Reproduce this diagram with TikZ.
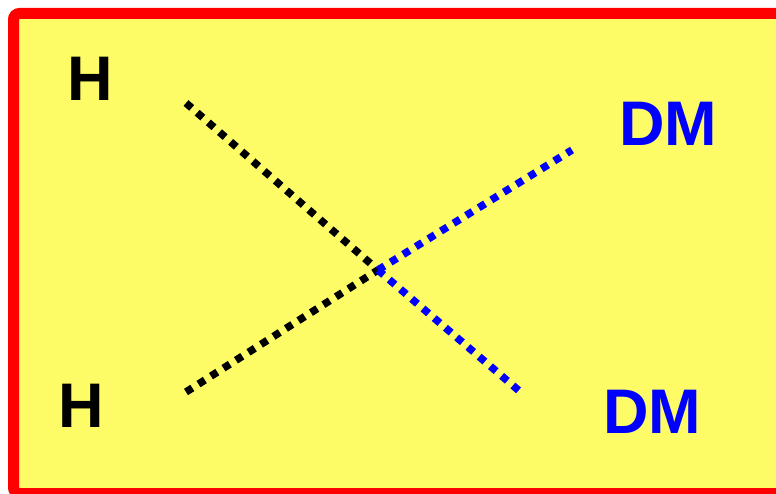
\documentclass[tikz,border=0pt]{standalone}
\usepackage{fontspec}
\setmainfont{Liberation Sans}
\definecolor{paneyellow}{RGB}{253,251,102}
\tikzset{
  label/.style={font=\fontsize{63}{63}\selectfont\bfseries, inner sep=0pt},
  scalar/.style={line width=7.5pt, dash pattern=on 7.5pt off 7.3pt},
}
\begin{document}
\begin{tikzpicture}[x=1pt,y=-1pt]
                % ===== 边框 =====
                \useasboundingbox (0,0) rectangle (776,494);
                \draw[red, line width=11pt, fill=paneyellow, rounded corners=6pt]
                (13.5,13.5) rectangle (800,493.5);

                % ===== 标签 =====
                \node[label] (h1) at (90,79) {H};
                \node[label] (h2) at (81,406) {H};
                \node[label, blue] (dm1) at (668,124) {DM};
                \node[label, blue] (dm2) at (652,412) {DM};

                % ===== 顶点 =====
                \coordinate (v) at (378,270);
                \coordinate (h1end) at (186,103);
                \coordinate (h2end) at (186,392);
                \coordinate (dm1end) at (572,150);
                \coordinate (dm2end) at (524,395);

                % ===== 传播线 =====
                \draw[scalar] (h1end) -- (v);
                \draw[scalar] (h2end) -- (v);
                \draw[scalar, blue] (v) -- (dm1end);
                \draw[scalar, blue] (v) -- (dm2end);
\end{tikzpicture}
\end{document}
